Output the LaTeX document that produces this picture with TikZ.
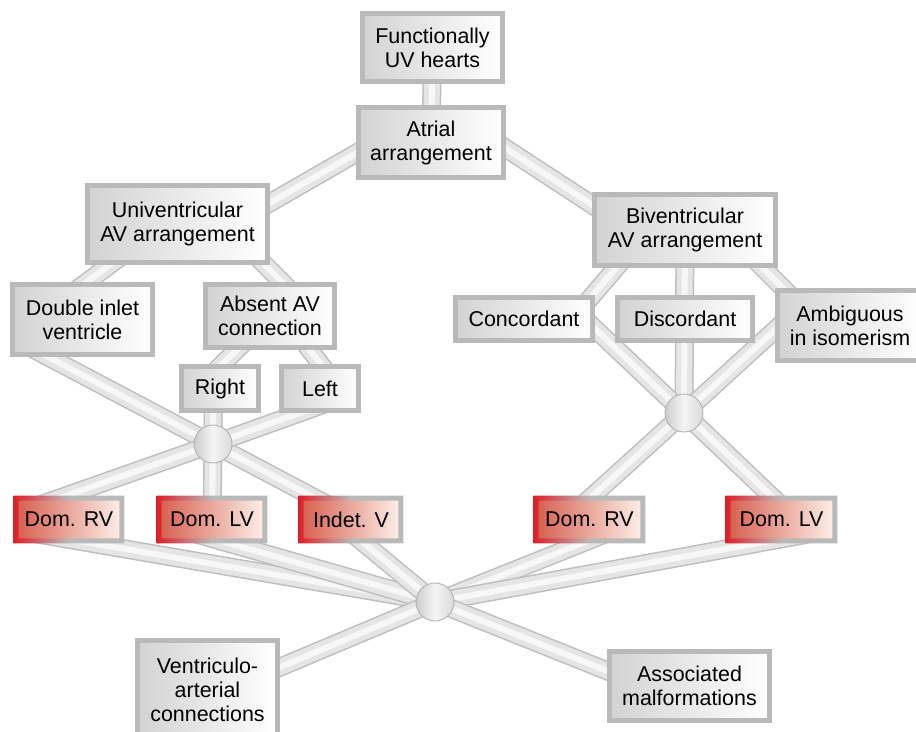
\documentclass[tikz,border=0pt]{standalone}
\usepackage{fontspec}
\setmainfont{Liberation Sans}
\usetikzlibrary{backgrounds}
\definecolor{ventred}{RGB}{214,96,80}
\definecolor{ventpink}{RGB}{253,240,234}
\definecolor{framered}{RGB}{222,30,38}

\begin{document}
\begin{tikzpicture}[x=0.02cm,y=-0.02cm]
\tikzstyle{every node}+=[inner sep=0pt, align=center, font=\fontsize{12.2}{13.7}\selectfont]
\tikzstyle{grey box}=[draw=gray!55, line width=0.1cm, left color=gray!35, right color=white]
\tikzstyle{vent box}=[left color=ventred, right color=ventpink, minimum height=0.84cm]
\tikzstyle{red frame}=[left color=framered, right color=gray!55, middle color=gray!55, even odd rule]
\tikzstyle{hub}=[circle, minimum size=0.76cm, draw=gray!60, line width=0.5pt, left color=gray!40, right color=gray!30, middle color=gray!8]
\tikzstyle{tube}=[draw=gray!52, line width=0.38cm, postaction={draw=gray!20, line width=0.32cm}, postaction={draw=gray!6, line width=0.12cm}]
\useasboundingbox (0,0) rectangle (916,731);
\node [grey box, minimum width=2.8cm, minimum height=1.36cm] (func) at (432.5,47.5) {Functionally\\UV hearts};
\node [grey box, minimum width=2.9cm, minimum height=1.4cm] (atr) at (431,142.5) {Atrial\\arrangement};
\node [grey box, minimum width=3.6cm, minimum height=1.54cm] (univ) at (177.5,224) {Univentricular\\AV arrangement};
\node [grey box, minimum width=3.62cm, minimum height=1.42cm] (biv) at (685,230) {Biventricular\\AV arrangement};
\node [grey box, minimum width=2.8cm, minimum height=1.4cm] (dbl) at (82.5,319.5) {Double inlet\\ventricle};
\node [grey box, minimum width=2.58cm, minimum height=1.26cm] (absent) at (270,316) {Absent AV\\connection};
\node [grey box, minimum width=1.54cm, minimum height=0.88cm] (right) at (220,388.5) {Right};
\node [grey box, minimum width=1.54cm, minimum height=0.88cm] (left) at (320,388.5) {Left};
\node [grey box, minimum width=2.74cm, minimum height=0.86cm] (conc) at (524,319) {Concordant};
\node [grey box, minimum width=2.7cm, minimum height=0.86cm] (disc) at (685,319) {Discordant};
\node [grey box, minimum width=2.9cm, minimum height=1.4cm] (amb) at (850,325.5) {Ambiguous\\in isomerism};
\node [vent box, minimum width=2.1cm] (drv) at (69,519.5) {Dom. RV};
\node [vent box, minimum width=2.1cm] (dlv) at (212,519.5) {Dom. LV};
\node [vent box, minimum width=1.98cm] (ind) at (351,519.5) {Indet. V};
\node [vent box, minimum width=2.12cm] (drvr) at (589.5,519.5) {Dom. RV};
\node [vent box, minimum width=2.12cm] (dlvr) at (781.5,519.5) {Dom. LV};
\node [grey box, minimum width=2.8cm, minimum height=1.98cm] (vent) at (207.5,690) {Ventriculo-\\arterial\\connections};
\node [grey box, minimum width=3.2cm, minimum height=1.38cm] (assoc) at (689.5,686) {Associated\\malformations};
\node [hub] (lhub) at (213,444) {};
\node [hub] (rhub) at (684,413) {};
\node [hub] (bhub) at (435,602) {};
\path [red frame] ([shift={(-2.5,-2.5)}]drv.north west) rectangle ([shift={(2.5,2.5)}]drv.south east) ([shift={(2.5,2.5)}]drv.north west) rectangle ([shift={(-2.5,-2.5)}]drv.south east);
\path [red frame] ([shift={(-2.5,-2.5)}]dlv.north west) rectangle ([shift={(2.5,2.5)}]dlv.south east) ([shift={(2.5,2.5)}]dlv.north west) rectangle ([shift={(-2.5,-2.5)}]dlv.south east);
\path [red frame] ([shift={(-2.5,-2.5)}]ind.north west) rectangle ([shift={(2.5,2.5)}]ind.south east) ([shift={(2.5,2.5)}]ind.north west) rectangle ([shift={(-2.5,-2.5)}]ind.south east);
\path [red frame] ([shift={(-2.5,-2.5)}]drvr.north west) rectangle ([shift={(2.5,2.5)}]drvr.south east) ([shift={(2.5,2.5)}]drvr.north west) rectangle ([shift={(-2.5,-2.5)}]drvr.south east);
\path [red frame] ([shift={(-2.5,-2.5)}]dlvr.north west) rectangle ([shift={(2.5,2.5)}]dlvr.south east) ([shift={(2.5,2.5)}]dlvr.north west) rectangle ([shift={(-2.5,-2.5)}]dlvr.south east);
\begin{scope}[on background layer]
\draw [tube] (func.center) -- (atr.center);
\draw [tube] ([shift={(-31,-14.5)}]atr.center) -- ([shift={(62.5,-4)}]univ.center);
\draw [tube] ([shift={(39,-17.5)}]atr.center) -- ([shift={(-45,6)}]biv.center);
\draw [tube] ([shift={(-27.5,11)}]univ.center) -- ([shift={(-22.5,-17.5)}]dbl.center);
\draw [tube] ([shift={(57.5,11)}]univ.center) -- ([shift={(30,-16)}]absent.center);
\draw [tube] ([shift={(-10,11)}]absent.center) -- ([shift={(-15,-7.5)}]right.center);
\draw [tube] ([shift={(20,8)}]absent.center) -- ([shift={(12,-9.5)}]left.center);
\draw [tube] ([shift={(-62.5,22.5)}]dbl.center) -- (lhub.center) -- ([shift={(-6,-5.5)}]ind.center);
\draw [tube] ([xshift=-7*0.02cm]right.center) -- (lhub.center) -- (dlv.center);
\draw [tube] ([shift={(10,13.5)}]left.center) -- (lhub.center) -- ([shift={(-39,-11)}]drv.center);
\draw [tube] ([shift={(-45,10)}]biv.center) -- ([shift={(56,-9)}]conc.center);
\draw [tube] (biv.center) -- (rhub.center);
\draw [tube] ([shift={(55,15)}]biv.center) -- ([shift={(-50,-20.5)}]amb.center);
\draw [tube] ([shift={(46,-14)}]conc.center) -- (rhub.center) -- ([shift={(4.5,-9.5)}]dlvr.center);
\draw [tube] ([shift={(-50,-18.5)}]amb.center) -- (rhub.center) -- ([shift={(-12.5,-9.5)}]drvr.center);
\draw [tube] ([shift={(-49,11.5)}]drv.center) -- (bhub.center);
\draw [tube] ([shift={(-42,7)}]dlv.center) -- (bhub.center);
\draw [tube] ([shift={(-21,-4.5)}]ind.center) -- (bhub.center);
\draw [tube] ([shift={(30.5,8.5)}]drvr.center) -- (bhub.center);
\draw [tube] ([shift={(48.5,10.5)}]dlvr.center) -- (bhub.center);
\draw [tube] (bhub.center) -- ([shift={(32.5,-6)}]vent.center);
\draw [tube] (bhub.center) -- ([shift={(-49.5,-2)}]assoc.center);
\end{scope}
\end{tikzpicture}
\end{document}
